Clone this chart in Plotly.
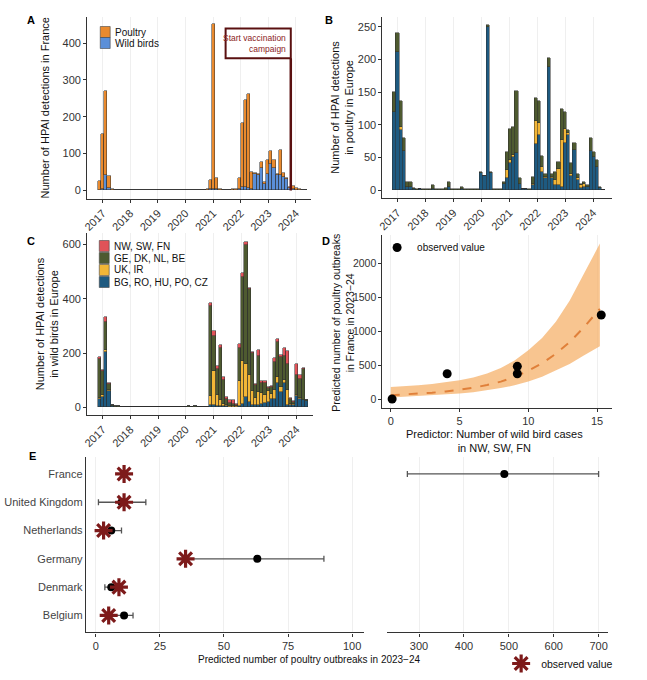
import pandas as pd
import plotly.graph_objects as go

# 6-week bins, first one starting 2016-10-31
bin_start = "2016-10-31"
bin_days = 42
n_bins = 66

# Panel A: HPAI detections in France
fr_poultry = [23, 147, 228, 32, 2, 1, 1, 1, 1, 1,
              1, 1, 1, 1, 1, 1, 1, 1, 1, 1,
              1, 1, 1, 1, 1, 1, 1, 1, 1, 1,
              1, 1, 1, 1, 2, 23, 447, 30, 3, 1,
              1, 1, 2, 2, 28, 173, 235, 254, 45, 2,
              2, 14, 4, 40, 35, 22, 4, 70, 12, 3,
              3, 9, 6, 2, 1, 0]
fr_wild = [2, 5, 42, 6, 1, 0, 0, 0, 1, 0,
           0, 1, 0, 1, 0, 0, 1, 0, 0, 1,
           0, 0, 1, 0, 0, 0, 1, 0, 0, 1,
           0, 0, 0, 0, 1, 5, 5, 3, 1, 0,
           1, 0, 1, 1, 5, 10, 10, 8, 5, 45,
           43, 62, 18, 44, 72, 60, 42, 41, 36, 30,
           6, 3, 2, 1, 0, 0]

# Panel B: poultry in Europe, by region group
eu_p_blue = [120, 212, 92, 60, 5, 4, 1, 0, 1, 0,
             0, 0, 2, 0, 0, 0, 0, 4, 0, 0,
             0, 1, 0, 0, 0, 0, 0, 26, 22, 250,
             26, 0, 0, 0, 10, 18, 41, 50, 56, 10,
             1, 1, 0, 8, 71, 84, 28, 18, 189, 18,
             8, 8, 5, 72, 85, 22, 62, 15, 3, 4,
             4, 60, 50, 35, 3, 0]
eu_p_yellow = [0, 0, 4, 0, 0, 0, 0, 0, 0, 0,
               0, 0, 0, 0, 0, 0, 0, 0, 0, 0,
               0, 0, 0, 0, 0, 0, 0, 0, 0, 0,
               0, 0, 0, 0, 0, 12, 5, 4, 0, 0,
               0, 0, 0, 2, 34, 18, 8, 2, 0, 2,
               8, 25, 72, 22, 2, 3, 0, 3, 5, 6,
               0, 0, 0, 0, 0, 0]
eu_p_green = [30, 28, 40, 20, 7, 8, 2, 1, 1, 2,
              1, 1, 5, 2, 1, 1, 3, 8, 1, 1,
              1, 3, 1, 1, 1, 1, 1, 1, 0, 2,
              1, 1, 1, 1, 2, 28, 48, 42, 96, 8,
              1, 1, 1, 10, 36, 35, 16, 5, 13, 4,
              11, 10, 47, 26, 5, 16, 10, 6, 2, 3,
              3, 20, 8, 11, 1, 0]

# Panel C: wild birds in Europe, by region group
eu_w_blue = [30, 38, 205, 60, 4, 2, 0, 0, 0, 0,
             0, 0, 0, 0, 0, 0, 0, 0, 0, 0,
             0, 0, 0, 0, 0, 0, 0, 0, 0, 0,
             0, 0, 0, 0, 0, 8, 8, 5, 6, 4,
             3, 2, 2, 2, 5, 12, 38, 18, 10, 8,
             10, 12, 15, 20, 30, 30, 90, 55, 90, 10,
             8, 10, 40, 30, 25, 22]
eu_w_yellow = [5, 6, 6, 2, 0, 0, 0, 0, 0, 0,
               0, 0, 0, 0, 0, 0, 0, 0, 0, 0,
               0, 0, 0, 0, 0, 0, 0, 0, 0, 0,
               0, 0, 0, 0, 0, 32, 124, 40, 22, 8,
               4, 3, 2, 2, 90, 160, 120, 100, 50, 25,
               45, 40, 30, 40, 20, 35, 22, 18, 12, 55,
               5, 2, 5, 3, 2, 0]
eu_w_green = [141, 88, 102, 22, 6, 3, 3, 2, 2, 1,
              1, 1, 1, 1, 1, 1, 1, 1, 1, 1,
              1, 1, 1, 1, 1, 1, 1, 1, 4, 1,
              5, 1, 1, 1, 2, 334, 129, 96, 190, 88,
              22, 12, 8, 5, 125, 308, 438, 316, 140, 48,
              132, 38, 44, 10, 25, 103, 129, 111, 88, 96,
              17, 8, 73, 70, 113, 3]
eu_w_red = [8, 5, 20, 4, 0, 0, 0, 0, 0, 0,
            0, 0, 0, 0, 0, 0, 0, 0, 0, 0,
            0, 0, 0, 0, 0, 0, 0, 0, 1, 0,
            0, 0, 0, 0, 0, 10, 19, 10, 12, 10,
            8, 8, 16, 3, 13, 15, 12, 5, 4, 4,
            25, 6, 6, 4, 5, 12, 10, 10, 30, 45,
            5, 2, 40, 15, 5, 0]

# Panel D: model fit and observed values
obs_x = [0.1, 4.1, 9.2, 9.2, 15.3]
obs_y = [5, 375, 485, 375, 1240]
fit_x = [0, 1, 2, 3, 4, 5, 6, 7, 8, 9, 10, 11, 12, 13, 14, 15.2]
fit_mid = [60, 70, 82, 97, 115, 140, 170, 210, 260, 330, 420, 530, 670, 840, 1050, 1330]
fit_lo = [25, 35, 45, 55, 70, 85, 105, 130, 165, 205, 260, 330, 420, 520, 640, 780]
fit_hi = [180, 190, 205, 225, 250, 280, 320, 380, 460, 570, 720, 900, 1140, 1450, 1830, 2290]

# Panel E: predicted vs observed outbreaks 2023-24
countries = ["France", "United Kingdom", "Netherlands", "Germany", "Denmark", "Belgium"]
observed = [11, 11, 3, 35, 9, 5]
predicted = [490, 10, 6, 63, 6, 11]
pred_lo = [274, 1, 2, 36, 3.5, 5]
pred_hi = [700, 19.5, 10, 89, 9, 14.5]
big_panel = ["France"]

bins = pd.date_range(bin_start, periods=n_bins, freq=f"{bin_days}D") + pd.Timedelta(days=bin_days / 2)
bar_w = bin_days * 86400000

W, H = 647, 680
FONT = "Liberation Sans, Arial, sans-serif"
C_POULTRY = "#e98a2e"
C_WILD = "#5b8fd8"
C_RED = "#e05358"
C_GREEN = "#4e5a30"
C_YELLOW = "#f2b637"
C_BLUE = "#1e5a80"
C_STAR = "#7d1a1a"
OUTLINE = dict(color="#2b2b2b", width=0.5)

fig = go.Figure()


def bars(y, color, name, xa, ya):
    fig.add_trace(go.Bar(x=bins, y=y, width=bar_w, name=name, marker=dict(color=color, line=OUTLINE),
                         xaxis=xa, yaxis=ya, showlegend=False))


# A
bars(fr_wild, C_WILD, "Wild birds", "x", "y")
bars(fr_poultry, C_POULTRY, "Poultry", "x", "y")
# B
bars(eu_p_blue, C_BLUE, "BG, RO, HU, PO, CZ", "x2", "y2")
bars(eu_p_yellow, C_YELLOW, "UK, IR", "x2", "y2")
bars(eu_p_green, C_GREEN, "GE, DK, NL, BE", "x2", "y2")
# C
bars(eu_w_blue, C_BLUE, "BG, RO, HU, PO, CZ", "x3", "y3")
bars(eu_w_yellow, C_YELLOW, "UK, IR", "x3", "y3")
bars(eu_w_green, C_GREEN, "GE, DK, NL, BE", "x3", "y3")
bars(eu_w_red, C_RED, "NW, SW, FN", "x3", "y3")

# D
fig.add_trace(go.Scatter(x=fit_x, y=fit_lo, mode="lines", line=dict(width=0),
                         xaxis="x4", yaxis="y4", showlegend=False, hoverinfo="skip"))
fig.add_trace(go.Scatter(x=fit_x, y=fit_hi, mode="lines", line=dict(width=0), fill="tonexty",
                         fillcolor="rgba(246,178,107,0.75)", xaxis="x4", yaxis="y4",
                         showlegend=False, hoverinfo="skip"))
fig.add_trace(go.Scatter(x=fit_x, y=fit_mid, mode="lines", line=dict(color="#e0803a", width=2, dash="dash"),
                         xaxis="x4", yaxis="y4", showlegend=False))
fig.add_trace(go.Scatter(x=obs_x, y=obs_y, mode="markers", name="observed value",
                         marker=dict(color="black", size=9), xaxis="x4", yaxis="y4", legend="legend"))

# E
for side, xa in (("left", "x5"), ("right", "x6")):
    idx = [i for i, c in enumerate(countries) if (c in big_panel) == (side == "right")]
    fig.add_trace(go.Scatter(
        x=[predicted[i] for i in idx], y=[countries[i] for i in idx], mode="markers",
        marker=dict(color="black", size=8),
        error_x=dict(type="data", symmetric=False,
                     array=[pred_hi[i] - predicted[i] for i in idx],
                     arrayminus=[predicted[i] - pred_lo[i] for i in idx],
                     color="#555", thickness=1.3, width=3),
        xaxis=xa, yaxis="y5" if side == "left" else "y6", showlegend=False))
fig.add_trace(go.Scatter(x=observed, y=countries, mode="markers", name="observed value",
                         marker=dict(symbol="asterisk-open", size=15, color=C_STAR,
                                     line=dict(color=C_STAR, width=3.2)),
                         xaxis="x5", yaxis="y5", legend="legend2"))

tickfont = dict(family=FONT, size=11, color="#333")
titlefont = dict(family=FONT, size=11, color="#111")
base_ax = dict(showline=True, linecolor="#333", linewidth=1.2, ticks="outside", ticklen=3,
               tickcolor="#333", tickfont=tickfont, zeroline=False)
date_x = dict(base_ax, type="date", tickformat="%Y", dtick="M12", tick0="2017-01-01",
              tickangle=-45, showgrid=True, gridcolor="#efefef", gridwidth=1)
y_plain = dict(base_ax, showgrid=False)

cats = list(reversed(countries))

fig.update_layout(
    width=W, height=H, margin=dict(l=0, r=0, t=0, b=0),
    paper_bgcolor="white", plot_bgcolor="white",
    barmode="stack", bargap=0,
    font=dict(family=FONT, size=11, color="#222"),
    xaxis=dict(date_x, domain=[0.128, 0.476], anchor="y", range=["2016-06-10", "2024-07-13"]),
    yaxis=dict(y_plain, domain=[0.708, 0.975], anchor="x", range=[-22, 471], tickvals=[0, 100, 200, 300, 400],
               title=dict(text="Number of HPAI detections in France", font=titlefont, standoff=10)),
    xaxis2=dict(date_x, domain=[0.588, 0.945], anchor="y2", range=["2016-06-20", "2024-08-28"]),
    yaxis2=dict(y_plain, domain=[0.709, 0.975], anchor="x2", range=[-12, 265], tickvals=[0, 50, 100, 150, 200, 250],
                title=dict(text="Number of HPAI detections<br>in poultry in Europe", font=titlefont, standoff=1)),
    xaxis3=dict(date_x, domain=[0.128, 0.479], anchor="y3", range=["2016-06-10", "2024-07-30"]),
    yaxis3=dict(y_plain, domain=[0.390, 0.657], anchor="x3", range=[-27, 642], tickvals=[0, 200, 400, 600],
                title=dict(text="Number of HPAI detections<br>in wild birds in Europe", font=titlefont, standoff=1)),
    xaxis4=dict(base_ax, domain=[0.588, 0.945], anchor="y4", range=[-0.6, 16.06], tickvals=[0, 5, 10, 15],
                showgrid=True, gridcolor="#efefef"),
    yaxis4=dict(y_plain, domain=[0.400, 0.654], anchor="x4", range=[-128, 2412], tickvals=[0, 500, 1000, 1500, 2000],
                tickfont=dict(family=FONT, size=10.5, color="#333")),
    xaxis5=dict(base_ax, domain=[0.126, 0.559], anchor="y5", range=[-3.9, 104.6], tickvals=[0, 25, 50, 75, 100],
                showgrid=True, gridcolor="#efefef"),
    yaxis5=dict(y_plain, domain=[0.070, 0.328], anchor="x5", type="category", categoryorder="array",
                categoryarray=cats, range=[-0.6, 5.6], ticks="", tickfont=dict(family=FONT, size=11, color="#444")),
    xaxis6=dict(base_ax, domain=[0.595, 0.940], anchor="y6", range=[228.6, 722], tickvals=[300, 400, 500, 600, 700],
                showgrid=True, gridcolor="#efefef"),
    yaxis6=dict(domain=[0.070, 0.328], anchor="x6", type="category", categoryorder="array",
                categoryarray=cats, range=[-0.6, 5.6], showline=False, showticklabels=False, ticks="",
                showgrid=False, zeroline=False),
    legend=dict(x=375 / W, y=1 - 233 / H, xanchor="left", yanchor="top", bgcolor="rgba(0,0,0,0)",
                font=dict(family=FONT, size=10, color="#111"), itemwidth=30),
    legend2=dict(x=500 / W, y=1 - 649 / H, xanchor="left", yanchor="top", bgcolor="rgba(0,0,0,0)",
                 font=dict(family=FONT, size=10.5, color="#111"), itemwidth=30),
)

# legends of panels A and C drawn as small keyed boxes
for label, color, px, py in (("Poultry", C_POULTRY, 96, 32), ("Wild birds", C_WILD, 96, 43),
                             ("NW, SW, FN", C_RED, 95, 246), ("GE, DK, NL, BE", C_GREEN, 95, 258),
                             ("UK, IR", C_YELLOW, 95, 270), ("BG, RO, HU, PO, CZ", C_BLUE, 95, 282)):
    fig.add_shape(type="rect", xref="paper", yref="paper", x0=px / W, x1=(px + 10) / W,
                  y0=1 - (py + 5.5) / H, y1=1 - (py - 5.5) / H, fillcolor=color, line=dict(color="#444", width=0.6))
    fig.add_annotation(xref="paper", yref="paper", x=(px + 13) / W, y=1 - py / H, text=label, showarrow=False,
                       xanchor="left", yanchor="middle", font=dict(family=FONT, size=10, color="#111"))

# vaccination campaign marker in A
vacc_date = "2023-10-25"
fig.add_shape(type="rect", xref="x", yref="y", x0="2021-06-15", x1=vacc_date, y0=359, y1=440,
              line=dict(color="#5a1010", width=2), fillcolor="white", layer="above")
fig.add_shape(type="line", xref="x", yref="y", x0=vacc_date, x1=vacc_date, y0=0, y1=359,
              line=dict(color="#5a1010", width=2.5))
fig.add_annotation(xref="x", yref="y", x="2023-09-20", y=400, xanchor="right", align="right",
                   text="Start vaccination<br>campaign", showarrow=False,
                   font=dict(family=FONT, size=8.5, color="#8b2323"))

for letter, px, py in (("A", 26, 20), ("B", 327, 20), ("C", 26, 241), ("D", 324, 241), ("E", 28, 456)):
    fig.add_annotation(xref="paper", yref="paper", x=px / W, y=1 - py / H, text=f"<b>{letter}</b>",
                       showarrow=False, xanchor="center", yanchor="middle", font=dict(family=FONT, size=11, color="black"))

# D axis titles, set tight against the tick labels as in the source
fig.add_annotation(xref="paper", yref="paper", x=493 / W, y=1 - 426 / H, yanchor="top", xanchor="center",
                   text="Predictor: Number of wild bird cases<br>in NW, SW, FN", showarrow=False,
                   font=dict(family=FONT, size=11, color="#111"))
fig.add_annotation(xref="paper", yref="paper", x=340.5 / W, y=1 - 323 / H, yanchor="middle", xanchor="center",
                   textangle=-90, text="Predicted number of poultry outbreaks<br>in France in 2023\u221224",
                   showarrow=False, font=dict(family=FONT, size=10.5, color="#111"))

fig.add_annotation(xref="paper", yref="paper", x=307 / W, y=1 - 659 / H,
                   text="Predicted number of poultry outbreaks in 2023\u221224", showarrow=False,
                   xanchor="center", yanchor="middle", font=dict(family=FONT, size=10, color="#111"))

fig.write_html("out.html", config={"displayModeBar": False},
               post_script="document.body.style.margin='0px';")
